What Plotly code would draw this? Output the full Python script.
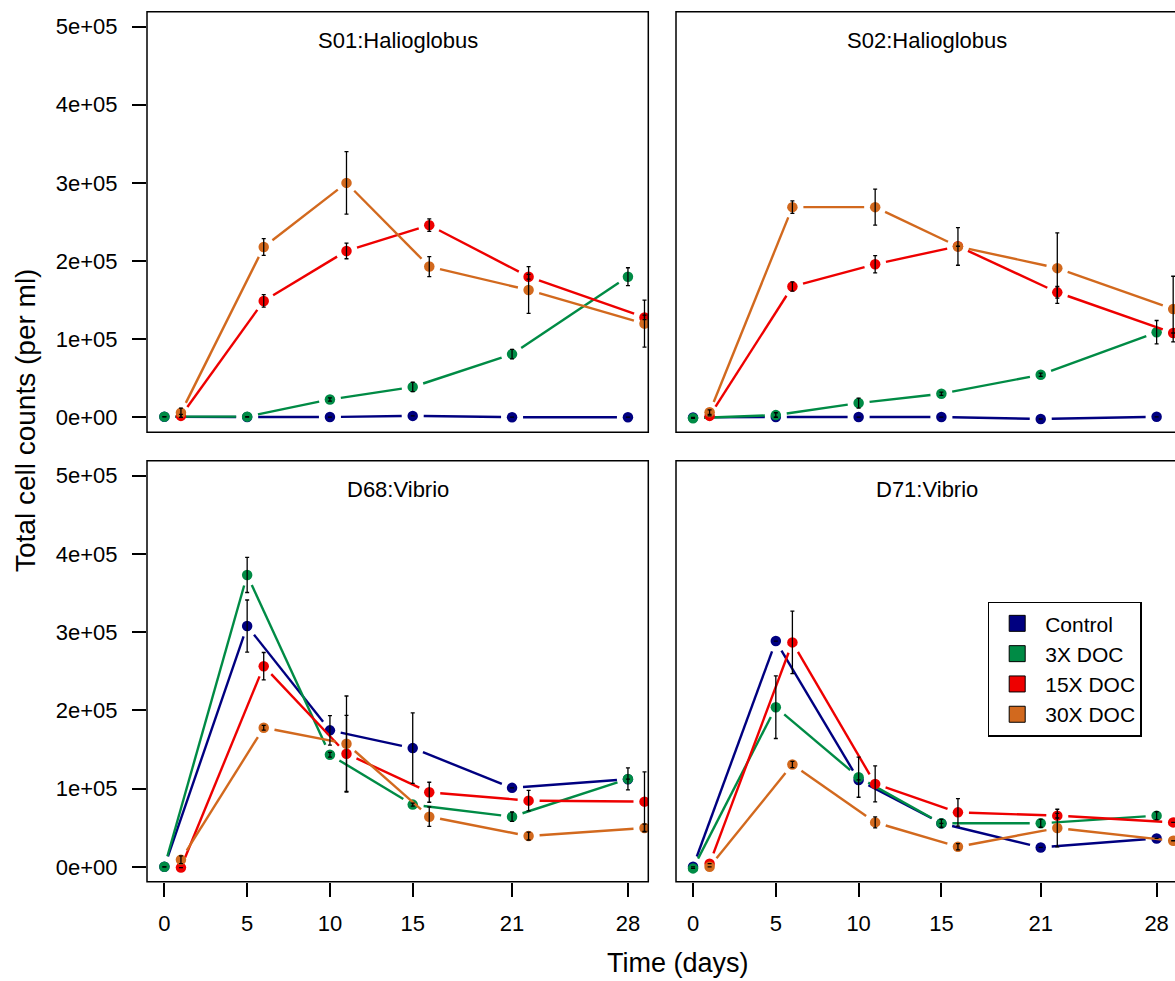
import plotly.graph_objects as go

# ---------------- data ----------------
days_ctrl = [0, 5, 10, 15, 21, 28]      # Control and 3X DOC
days_doc = [1, 6, 11, 16, 22, 29]       # 15X and 30X DOC (plotted offset by one day)
x_tick_vals = [0, 5, 10, 15, 21, 28]
x_tick_text = ["0", "5", "10", "15", "21", "28"]
y_tick_vals = [0, 100000, 200000, 300000, 400000, 500000]
y_tick_text = ["0e+00", "1e+05", "2e+05", "3e+05", "4e+05", "5e+05"]

series_names = ["Control", "3X DOC", "15X DOC", "30X DOC"]
series_colors = ["#000080", "#008B45", "#EE0000", "#D2691E"]
panel_titles = ["S01:Halioglobus", "S02:Halioglobus", "D68:Vibrio", "D71:Vibrio"]

# S01: Halioglobus
s01_control = [800, 500, 500, 2000, 300, 300]
s01_3x = [1000, 1000, 23000, 39000, 81000, 180000]
s01_15x = [2000, 149000, 213000, 246000, 180000, 128000]
s01_30x = [6000, 218000, 300000, 193000, 163000, 120000]
s01_control_err = [0, 0, 0, 0, 0, 0]
s01_3x_err = [0, 0, 2000, 6000, 6000, 11500]
s01_15x_err = [2000, 8000, 10000, 8000, 3000, 3000]
s01_30x_err = [6000, 10700, 40000, 12800, 30000, 30000]

# S02: Halioglobus
s02_control = [0, 500, 500, 500, -2000, 800]
s02_3x = [-1000, 3000, 18400, 30300, 54600, 109000]
s02_15x = [2000, 167500, 196000, 219000, 160000, 108000]
s02_30x = [6800, 269000, 269000, 218700, 191000, 138600]
s02_control_err = [0, 0, 0, 0, 0, 0]
s02_3x_err = [0, 3000, 6400, 2000, 2000, 15000]
s02_15x_err = [0, 6000, 11000, 0, 7500, 0]
s02_30x_err = [3000, 8000, 23000, 24000, 45000, 42000]

# D68: Vibrio
d68_control = [0, 307700, 174400, 151700, 100900, 112000]
d68_3x = [0, 373000, 143200, 79500, 64100, 112400]
d68_15x = [-1000, 256400, 144500, 95300, 84600, 83300]
d68_30x = [9000, 177800, 157300, 64100, 39300, 49600]
d68_control_err = [0, 33300, 18800, 45000, 0, 0]
d68_3x_err = [0, 22400, 3000, 2000, 6000, 14000]
d68_15x_err = [0, 17500, 49000, 12800, 13000, 38000]
d68_30x_err = [5000, 3000, 61000, 12400, 5000, 5000]

# D71: Vibrio
d71_control = [0, 288500, 111000, 55500, 24800, 36300]
d71_3x = [-2000, 204000, 114500, 55600, 55600, 65400]
d71_15x = [4000, 286800, 106000, 69600, 65400, 56800]
d71_30x = [0, 130800, 56800, 25600, 49600, 33300]
d71_control_err = [0, 0, 0, 0, 0, 0]
d71_3x_err = [0, 40000, 25600, 5000, 5000, 5000]
d71_15x_err = [0, 40000, 23000, 17500, 3000, 0]
d71_30x_err = [0, 4000, 7000, 4000, 24000, 0]

# ---------------- layout geometry ----------------
W, H = 1175, 981
FONT = "Liberation Sans, Arial, Helvetica, sans-serif"
col_px = [(147.0, 648.3), (676.0, 1175.0)]     # panel left/right edges (px)
row_px = [(11.7, 432.3), (460.7, 881.7)]       # panel top/bottom edges (px)
x_ranges = [(-1.05, 29.23), (-1.03, 29.11)]
y_range = (-19000, 519000)
GAP = 11.0  # px gap between line ends and point centres (R type="b")

panels = [
    (s01_control, s01_3x, s01_15x, s01_30x,
     s01_control_err, s01_3x_err, s01_15x_err, s01_30x_err),
    (s02_control, s02_3x, s02_15x, s02_30x,
     s02_control_err, s02_3x_err, s02_15x_err, s02_30x_err),
    (d68_control, d68_3x, d68_15x, d68_30x,
     d68_control_err, d68_3x_err, d68_15x_err, d68_30x_err),
    (d71_control, d71_3x, d71_15x, d71_30x,
     d71_control_err, d71_3x_err, d71_15x_err, d71_30x_err),
]
series_days = [days_ctrl, days_ctrl, days_doc, days_doc]

fig = go.Figure()


def gapped_segments(xs, ys, sx, sy, gap):
    """Line segments between consecutive points, shortened at each end (R type='b')."""
    gx, gy = [], []
    for i in range(len(xs) - 1):
        dx = (xs[i + 1] - xs[i]) * sx
        dy = (ys[i + 1] - ys[i]) * sy
        L = (dx * dx + dy * dy) ** 0.5
        if L <= 2 * gap:
            continue
        f = gap / L
        gx += [xs[i] + f * (xs[i + 1] - xs[i]), xs[i + 1] - f * (xs[i + 1] - xs[i]), None]
        gy += [ys[i] + f * (ys[i + 1] - ys[i]), ys[i + 1] - f * (ys[i + 1] - ys[i]), None]
    return gx, gy


for p, pdata in enumerate(panels):
    r, c = divmod(p, 2)
    ax_id = "" if p == 0 else str(p + 1)
    xref, yref = "x" + ax_id, "y" + ax_id
    xr = x_ranges[c]
    sx = (col_px[c][1] - col_px[c][0]) / (xr[1] - xr[0])
    sy = (row_px[r][1] - row_px[r][0]) / (y_range[1] - y_range[0])
    vals, errs = pdata[:4], pdata[4:]
    for s in range(4):
        gx, gy = gapped_segments(series_days[s], vals[s], sx, sy, GAP)
        fig.add_trace(go.Scatter(x=gx, y=gy, mode="lines", xaxis=xref, yaxis=yref,
                                 line=dict(color=series_colors[s], width=2.4),
                                 showlegend=False, hoverinfo="skip"))
        fig.add_trace(go.Scatter(x=series_days[s], y=vals[s], mode="markers",
                                 xaxis=xref, yaxis=yref, name=series_names[s],
                                 marker=dict(color=series_colors[s], size=10.5),
                                 showlegend=False))
    for s in range(4):
        fig.add_trace(go.Scatter(x=series_days[s], y=vals[s], mode="markers",
                                 xaxis=xref, yaxis=yref,
                                 marker=dict(size=1, color="rgba(0,0,0,0)"),
                                 error_y=dict(type="data", array=errs[s], visible=True,
                                              color="black", thickness=1.3, width=2),
                                 showlegend=False, hoverinfo="skip"))

# legend entries (filled squares as in the reference)
for s in range(4):
    fig.add_trace(go.Scatter(x=[None], y=[None], mode="markers", name=series_names[s],
                             marker=dict(symbol="square", size=16, color=series_colors[s],
                                         line=dict(color="black", width=1)),
                             xaxis="x4", yaxis="y4", showlegend=True))

layout = dict(
    width=W, height=H, margin=dict(l=0, r=0, t=0, b=0),
    paper_bgcolor="white", plot_bgcolor="white",
    font=dict(family=FONT, color="black", size=21),
    showlegend=True,
    legend=dict(x=987.7 / W, y=1 - 601.7 / H, xanchor="left", yanchor="top",
                bordercolor="black", borderwidth=1.5, bgcolor="white",
                font=dict(family=FONT, size=21, color="black"),
                itemsizing="trace", itemwidth=46),
)
for p in range(4):
    r, c = divmod(p, 2)
    ax_id = "" if p == 0 else str(p + 1)
    xdom = [col_px[c][0] / W, min(col_px[c][1] / W, 1.0)]
    ydom = [1 - row_px[r][1] / H, 1 - row_px[r][0] / H]
    bottom = (r == 1)
    left = (c == 0)
    layout["xaxis" + ax_id] = dict(
        domain=xdom, range=list(x_ranges[c]), anchor="y" + ax_id,
        showgrid=False, zeroline=False, showline=False,
        tickmode="array", tickvals=x_tick_vals, ticktext=x_tick_text,
        ticks="outside" if bottom else "", ticklen=14, tickwidth=1.5, tickcolor="black",
        showticklabels=bottom, tickfont=dict(size=22, family=FONT),
        ticklabelstandoff=8,
    )
    layout["yaxis" + ax_id] = dict(
        domain=ydom, range=list(y_range), anchor="x" + ax_id,
        showgrid=False, zeroline=False, showline=False,
        tickmode="array", tickvals=y_tick_vals, ticktext=y_tick_text,
        ticks="outside" if left else "", ticklen=14, tickwidth=1.5, tickcolor="black",
        showticklabels=left, tickfont=dict(size=22, family=FONT),
        ticklabelstandoff=10,
    )
fig.update_layout(**layout)

# panel frames
for p in range(4):
    r, c = divmod(p, 2)
    fig.add_shape(type="rect", xref="paper", yref="paper",
                  x0=col_px[c][0] / W, x1=(col_px[c][0] + 501.3) / W,
                  y0=1 - row_px[r][1] / H, y1=1 - row_px[r][0] / H,
                  line=dict(color="black", width=1.5), layer="above")

# panel titles
for p in range(4):
    r, c = divmod(p, 2)
    cx = (col_px[c][0] + col_px[c][0] + 501.3) / 2
    fig.add_annotation(text=panel_titles[p], xref="paper", yref="paper",
                       x=cx / W, y=1 - (row_px[r][0] + 28.5) / H,
                       xanchor="center", yanchor="middle", showarrow=False,
                       font=dict(size=22, family=FONT, color="black"))

# axis titles
fig.add_annotation(text="Time (days)", xref="paper", yref="paper",
                   x=678 / W, y=1 - 963 / H, xanchor="center", yanchor="middle",
                   showarrow=False, font=dict(size=27, family=FONT, color="black"))
fig.add_annotation(text="Total cell counts (per ml)", xref="paper", yref="paper",
                   x=25 / W, y=1 - 421 / H, xanchor="center", yanchor="middle",
                   textangle=-90, showarrow=False,
                   font=dict(size=28, family=FONT, color="black"))

fig.write_html("out.html")
